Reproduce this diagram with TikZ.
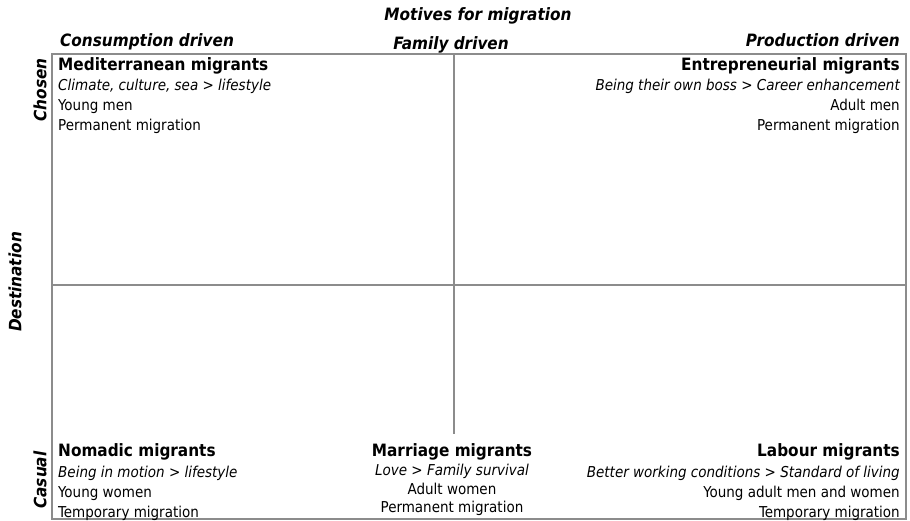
\documentclass[tikz,border=0pt]{standalone}
\usepackage{fontspec}
\setmainfont{DejaVu Sans Condensed}
\usetikzlibrary{positioning}

\begin{document}
\begin{tikzpicture}[x=1pt,y=-1pt]
	\tikzstyle{frame}=[draw=black!45,line width=1.3pt]
	\tikzstyle{head}=[inner sep=0pt,font=\fontsize{17}{19}\selectfont\bfseries\itshape]
	\tikzstyle{title}=[inner sep=0pt,font=\fontsize{17}{19}\selectfont\bfseries]
	\tikzstyle{motive}=[inner sep=0pt,font=\fontsize{15}{17}\selectfont\itshape]
	\tikzstyle{info}=[inner sep=0pt,font=\fontsize{15}{17}\selectfont]

	\useasboundingbox (0,0) rectangle (910,521);

	% grid
	\draw[frame] (52,54) rectangle (906,519);
	\draw[frame] (52,285) -- (906,285);
	\draw[frame] (454,54) -- (454,434);

	% axis headers
	\node[head] (MOT) at (478,16) {Motives for migration};
	\node[head,anchor=base west] (CON) at (60,47) {Consumption driven};
	\node[head,anchor=base] (FAM) at (451,50) {Family driven};
	\node[head,anchor=base east] (PRO) at (900,47) {Production driven};

	\node[head,rotate=90] (CHO) at (40,90) {Chosen};
	\node[head,rotate=90] (DES) at (15,282) {Destination};
	\node[head,rotate=90] (CAS) at (40,480) {Casual};

	% top left
	\node[title,anchor=base west] (MED) at (58,71) {Mediterranean migrants};
	\node[motive,anchor=base west] (MED2) at (58,91) {Climate, culture, sea > lifestyle};
	\node[info,anchor=base west] (MED3) at (58,111) {Young men};
	\node[info,anchor=base west] (MED4) at (58,131) {Permanent migration};

	% top right
	\node[title,anchor=base east] (ENT) at (900,71) {Entrepreneurial migrants};
	\node[motive,anchor=base east] (ENT2) at (900,91) {Being their own boss > Career enhancement};
	\node[info,anchor=base east] (ENT3) at (900,111) {Adult men};
	\node[info,anchor=base east] (ENT4) at (900,131) {Permanent migration};

	% bottom left
	\node[title,anchor=base west] (NOM) at (58,456) {Nomadic migrants};
	\node[motive,anchor=base west] (NOM2) at (58,477) {Being in motion > lifestyle};
	\node[info,anchor=base west] (NOM3) at (58,497) {Young women};
	\node[info,anchor=base west] (NOM4) at (58,517) {Temporary migration};

	% bottom middle
	\node[title,anchor=base] (MAR) at (452,456) {Marriage migrants};
	\node[motive,anchor=base] (MAR2) at (452,475) {Love > Family survival};
	\node[info,anchor=base] (MAR3) at (452,494) {Adult women};
	\node[info,anchor=base] (MAR4) at (452,512) {Permanent migration};

	% bottom right
	\node[title,anchor=base east] (LAB) at (900,456) {Labour migrants};
	\node[motive,anchor=base east] (LAB2) at (900,477) {Better working conditions > Standard of living};
	\node[info,anchor=base east] (LAB3) at (900,497) {Young adult men and women};
	\node[info,anchor=base east] (LAB4) at (900,517) {Temporary migration};
\end{tikzpicture}
\end{document}
